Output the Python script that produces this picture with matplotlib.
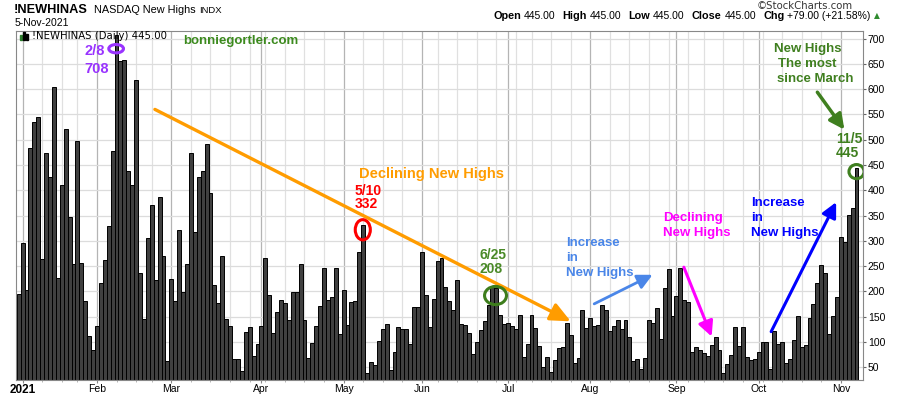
import numpy as np
import pandas as pd
import matplotlib
matplotlib.use("Agg")
import matplotlib.pyplot as plt
from matplotlib.patches import Ellipse, Rectangle

# ---------------- data ----------------
holidays = ["2021-01-01", "2021-01-18", "2021-02-15", "2021-04-02",
            "2021-05-31", "2021-07-05", "2021-09-06"]
dates = pd.bdate_range("2020-12-31", "2021-11-05", freq="C", holidays=holidays)

new_highs = [
    196, 295, 203, 483, 536, 544, 265, 473, 427, 605, 226, 410, 522, 348, 255, 498, 257, 182, 112, 85,
    132, 216, 262, 330, 477, 708, 655, 657, 439, 410, 619, 236, 145, 305, 371, 222, 386, 271, 62, 224,
    181, 321, 198, 255, 473, 317, 426, 439, 491, 394, 212, 178, 271, 145, 132, 66, 66, 42, 119, 129,
    72, 97, 132, 267, 194, 117, 159, 184, 178, 143, 198, 198, 255, 143, 68, 99, 132, 172, 247, 184,
    190, 247, 115, 202, 133, 180, 182, 279, 332, 38, 60, 54, 103, 125, 135, 44, 81, 129, 125, 125,
    97, 170, 170, 279, 194, 129, 186, 261, 267, 208, 182, 164, 222, 135, 133, 117, 77, 101, 123, 141,
    174, 208, 206, 153, 135, 137, 131, 125, 153, 70, 97, 153, 127, 93, 50, 70, 40, 64, 89, 91,
    137, 113, 58, 68, 164, 127, 147, 131, 133, 174, 164, 121, 131, 143, 125, 143, 111, 62, 66, 46,
    68, 143, 137, 168, 107, 206, 245, 151, 192, 247, 184, 180, 81, 91, 85, 79, 72, 95, 111, 85,
    38, 56, 74, 130, 93, 130, 70, 64, 66, 81, 101, 101, 46, 121, 97, 101, 58, 66, 105, 151,
    91, 95, 147, 176, 216, 253, 236, 115, 151, 190, 307, 297, 352, 366, 445,
]
y_ticks = list(range(50, 701, 50))
assert len(dates) == len(new_highs)

# ---------------- figure ----------------
W, H = 900, 396
fig = plt.figure(figsize=(W / 100, H / 100), dpi=100)
fig.patch.set_facecolor("white")
L, R, T, B = 16.3, 863, 31, 380
ax = fig.add_axes([L / W, 1 - B / H, (R - L) / W, (B - T) / H])

x = np.arange(len(new_highs))
ymin, ymax = 25, 715
ax.bar(x, np.array(new_highs) - ymin, bottom=ymin, width=1.0, color="#404040",
       edgecolor="black", linewidth=0.7, zorder=2)
ax.set_xlim(-0.6, 215.66)
ax.set_ylim(ymin, ymax)

# month and week gridlines
month_first = [i for i in range(1, len(dates)) if dates[i].month != dates[i - 1].month]
week_first = [i for i in range(1, len(dates)) if dates[i].isocalendar()[1] != dates[i - 1].isocalendar()[1]]
ax.set_xticks(month_first)
ax.set_xticks(week_first, minor=True)
labels = ["2021" if dates[i].month == 1 else dates[i].strftime("%b") for i in month_first]
ax.set_xticklabels(labels, fontsize=7.5, family="Liberation Sans")
for t in ax.get_xticklabels():
    if t.get_text() == "2021":
        t.set_fontweight("bold")
        t.set_fontsize(8.5)
ax.tick_params(axis="x", which="major", length=2, pad=1, color="#888888")
ax.tick_params(axis="x", which="minor", length=1.5, color="#aaaaaa")
ax.grid(axis="x", which="major", color="#b4b4b4", linewidth=0.9, zorder=0)
ax.grid(axis="x", which="minor", color="#e0e0e0", linewidth=0.9, zorder=0)

ax.yaxis.tick_right()
ax.set_yticks(y_ticks)
ax.set_yticklabels([str(v) for v in y_ticks], fontsize=7.5, family="Liberation Sans")
ax.tick_params(axis="y", length=2, pad=1.5, color="#666666")
ax.grid(axis="y", color="#dcdcdc", linewidth=0.9, zorder=0)
ax.set_axisbelow(True)
for s in ax.spines.values():
    s.set_color("#888888")
    s.set_linewidth(0.8)

# ---------------- header ----------------
def fpos(px, py):
    return px / W, 1 - py / H

fig.text(*fpos(14, 12.7), "!NEWHINAS", fontsize=9.2, fontweight="bold", family="Liberation Sans", va="baseline")
fig.text(*fpos(94, 12.7), "NASDAQ New Highs", fontsize=7.8, family="Liberation Sans", va="baseline")
fig.text(*fpos(199, 12.7), "INDX", fontsize=6.8, family="Liberation Sans", va="baseline")
fig.text(*fpos(15, 26), "5-Nov-2021", fontsize=7.5, family="Liberation Sans", va="baseline")
fig.text(*fpos(853, 9), "\u00a9StockCharts.com", fontsize=7.3, family="DejaVu Sans", va="baseline",
         ha="right", color="#333333")

renderer = fig.canvas.get_renderer()
pieces = [("Open", True, 3), ("445.00", False, 7), ("High", True, 3), ("445.00", False, 7),
          ("Low", True, 3), ("445.00", False, 7), ("Close", True, 3), ("445.00", False, 7),
          ("Chg", True, 3), ("+79.00 (+21.58%)", False, 3)]
cx = 493
for txt_, bold, gap in pieces:
    t = fig.text(*fpos(cx, 19), txt_, fontsize=7.8 if bold else 7.5, family="Liberation Sans",
                 fontweight="bold" if bold else "normal", va="baseline")
    cx += t.get_window_extent(renderer).width + gap
fig.text(*fpos(cx, 18.5), "\u25b2", fontsize=5.5, family="DejaVu Sans", color="#2e8b2e", va="baseline")

# legend inside plot
for bx, bh, c in [(20, 5, "#2e7d2e"), (23, 8, "black"), (26, 6, "black")]:
    fig.add_artist(Rectangle((bx / W, 1 - 40 / H), 2 / W, bh / H, transform=fig.transFigure,
                             color=c, zorder=5))
fig.text(*fpos(32, 39), "!NEWHINAS (Daily) 445.00", fontsize=7.3, family="DejaVu Sans", va="baseline")
fig.text(*fpos(183, 44), "bonniegortler.com", fontsize=9.5, fontweight="bold",
         family="Liberation Sans", color="#3c8a1e", va="baseline")

# ---------------- annotations ----------------
def txt(k, v, s, color, size=9.5, ha="left"):
    ax.text(k, v, s, color=color, fontsize=size, fontweight="bold", family="Liberation Sans",
            ha=ha, va="center", zorder=6)

def arrow(k0, v0, k1, v1, color, lw, hl=0.5, hw=0.22, ms=20):
    ax.annotate("", xy=(k1, v1), xytext=(k0, v0),
                arrowprops=dict(arrowstyle=f"-|>,head_length={hl},head_width={hw}",
                                color=color, lw=lw, shrinkA=0, shrinkB=0, mutation_scale=ms),
                zorder=6)

def ring(k, v, w, h, color):
    ax.add_patch(Ellipse((k, v), w, h, fill=False, edgecolor=color, linewidth=2.2, zorder=6))

purple = "#9933ff"
txt(16.7, 676, "2/8", purple, 10.5)
txt(16.7, 640, "708", purple, 10.5)
ring(24.9, 680, 3.75, 16.5, purple)

orange = "#ff9c00"
arrow(34.8, 560, 141.0, 141, orange, 2.4, hl=0.55, hw=0.25, ms=22)
txt(86.9, 433, "Declining New Highs", orange, 10.5)

red = "#ff0000"
txt(85.9, 399, "5/10", red, 10)
txt(85.9, 372, "332", red, 10)
ring(87.9, 322, 3.85, 40, red)

green = "#4a8a28"
txt(117.8, 273, "6/25", green, 10)
txt(117.8, 244, "208", green, 10)
ring(121.8, 192, 5.6, 36, "#3d7d1c")

cblue = "#4a86e8"
txt(139.9, 296, "Increase", cblue)
txt(139.9, 266, "in", cblue)
txt(139.9, 237, "New Highs", cblue)
arrow(147.0, 175.5, 161.9, 233, cblue, 2.0, hl=0.5, hw=0.25, ms=18)

magenta = "#ff00ff"
txt(164.5, 346, "Declining", magenta)
txt(164.5, 316, "New Highs", magenta)
arrow(169.9, 248, 177.0, 111, magenta, 2.2, hl=0.5, hw=0.25, ms=18)

blue = "#0000ff"
txt(187.0, 375, "Increase", blue)
txt(187.0, 345, "in", blue)
txt(187.0, 316, "New Highs", blue)
arrow(192.2, 120.6, 208.8, 376.6, blue, 2.2, hl=0.5, hw=0.25, ms=18)

dgreen = "#3f7f1f"
txt(201.6, 680, "New Highs", dgreen, ha="center")
txt(201.5, 650.5, "The most", dgreen, ha="center")
txt(203.4, 621, "since March", dgreen, ha="center")
arrow(204.0, 594, 210.9, 520, dgreen, 2.5, hl=0.5, hw=0.25, ms=18)
txt(208.7, 502, "11/5", dgreen, 10)
txt(208.7, 473, "445", dgreen, 10)
ring(214.0, 437, 3.85, 28, dgreen)

fig.savefig("out.png", dpi=100, facecolor="white")
